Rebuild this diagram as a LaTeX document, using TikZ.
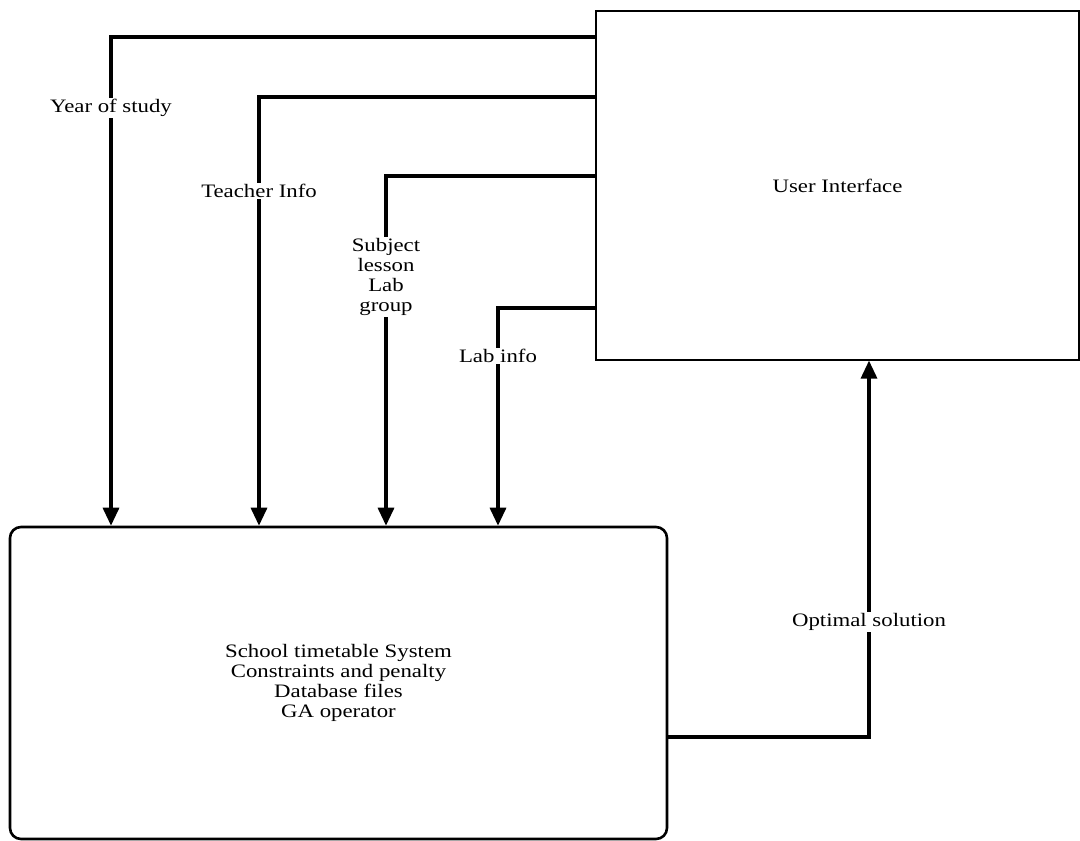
\documentclass[tikz,border=0pt]{standalone}
\usepackage{fontspec}
\setmainfont{Liberation Serif}[FakeStretch=1.2]
\usetikzlibrary{arrows.meta, positioning}
\tikzset{
  >=Triangle,
  feedarrow/.style={-{Triangle[length=18pt, width=16pt]}, line width=3.3pt},
  uibox/.style={draw, line width=1.2pt, minimum width=483pt, minimum height=349pt, inner sep=0pt},
  sysbox/.style={draw, line width=2.6pt, rounded corners=11pt, minimum width=657pt, minimum height=312pt, inner sep=0pt, align=center},
  flowlabel/.style={fill=white, inner sep=1pt, align=center}
}

\begin{document}
\begin{tikzpicture}[x=1pt, y=-1pt, font=\fontsize{19}{20}\selectfont]
    \useasboundingbox (0,0) rectangle (1080,841);
    % main blocks
    \node[uibox] (ui) at (837.5,185.5) {User Interface};
    \node[sysbox] (sys) at (338.5,683) {
        School timetable System\\
        Constraints and penalty\\
        Database files\\
        GA operator
    };
    % turning points of the inputs
    \coordinate (yearpt) at (111,37);
    \coordinate (teachpt) at (259,97);
    \coordinate (subjpt) at (386,176);
    \coordinate (labpt) at (498,308);
    \coordinate (optpt) at (869,737);
    % inputs from the interface
    \draw[feedarrow] (ui.west |- yearpt) -| (yearpt |- sys.north);
    \draw[feedarrow] (ui.west |- teachpt) -| (teachpt |- sys.north);
    \draw[feedarrow] (ui.west |- subjpt) -| (subjpt |- sys.north);
    \draw[feedarrow] (ui.west |- labpt) -| (labpt |- sys.north);
    % result back to the interface
    \draw[feedarrow] (sys.east |- optpt) -| (optpt |- ui.south);
    % labels
    \node[flowlabel] (yearlbl) at (111,108) {Year of study};
    \node[flowlabel] (teachlbl) at (259,191) {Teacher Info};
    \node[flowlabel] (subjlbl) at (386,277) {Subject\\lesson\\Lab\\group};
    \node[flowlabel] (lablbl) at (498,356) {Lab info};
    \node[flowlabel] (optlbl) at (869,622) {Optimal solution};
\end{tikzpicture}
\end{document}
